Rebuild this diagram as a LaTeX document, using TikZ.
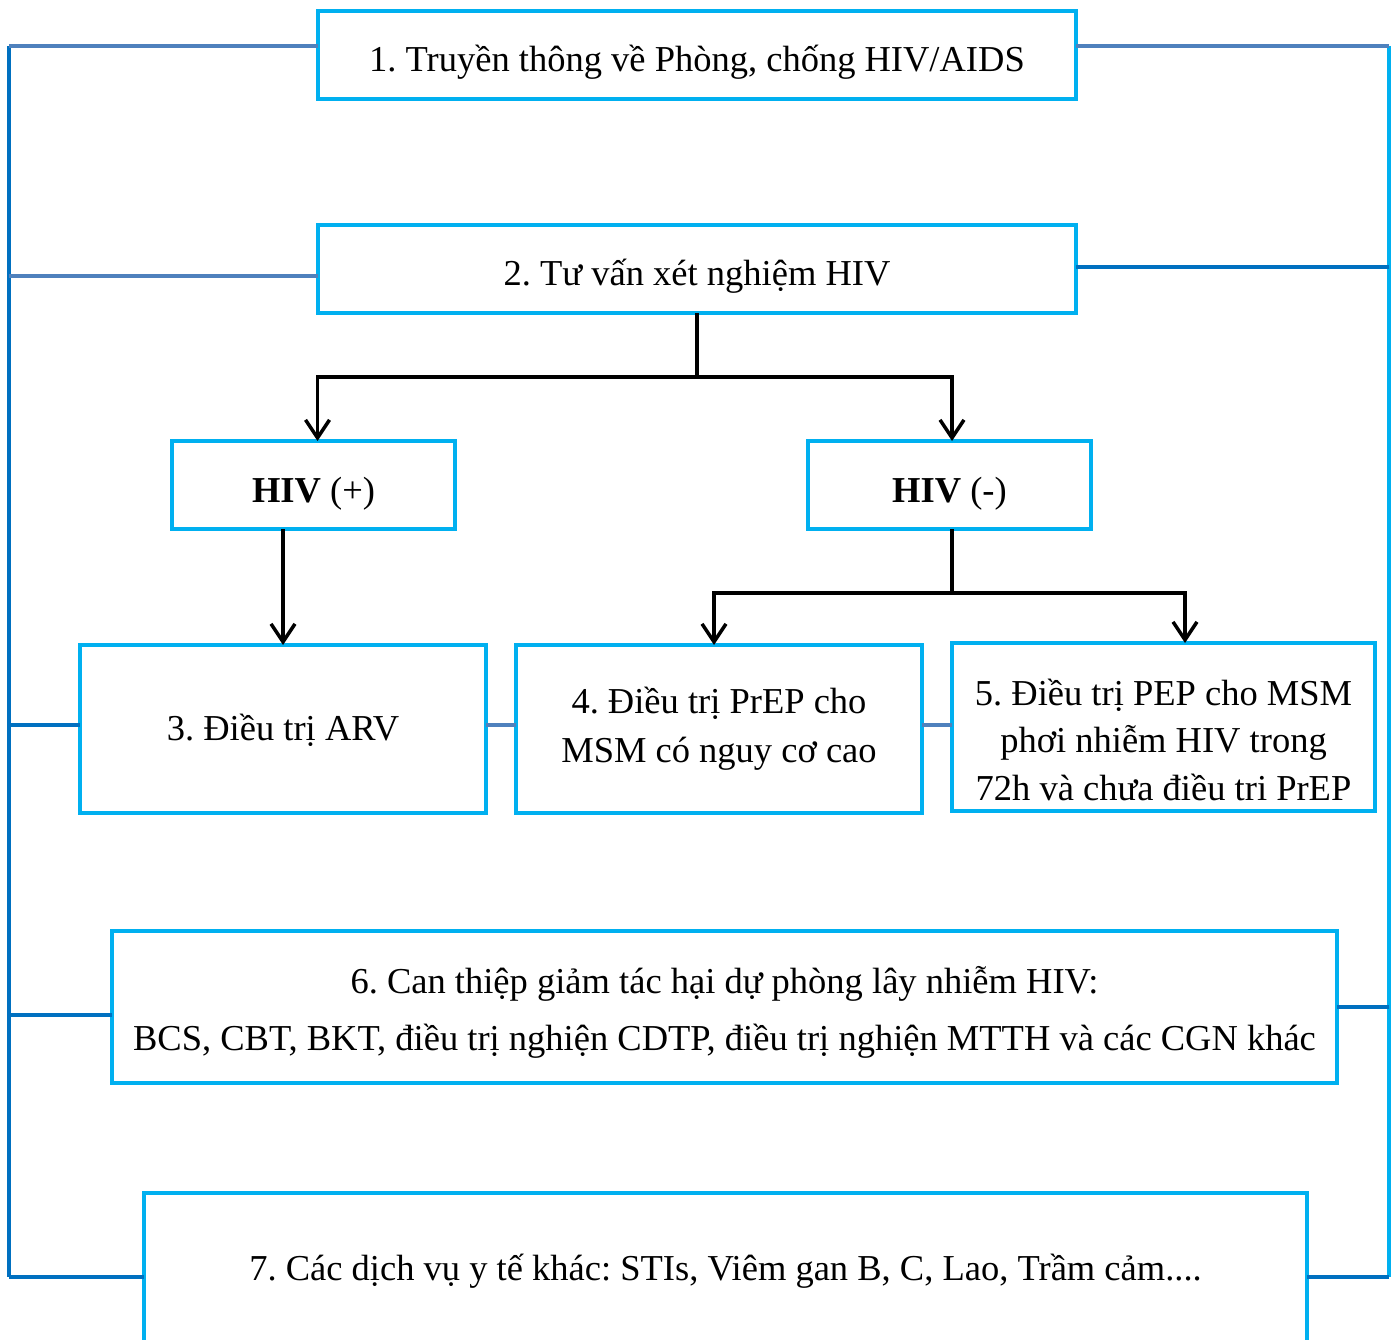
\documentclass[tikz,border=0pt]{standalone}
\usepackage{fontspec}
\setmainfont{Liberation Serif}
\frenchspacing
\usetikzlibrary{arrows.meta,
                calc,
                positioning}
\definecolor{boxcyan}{HTML}{00B0F0}
\definecolor{busdark}{HTML}{0070C0}
\definecolor{busgrey}{HTML}{4F81BD}
\tikzset{
	%Define style for boxes
	punkt/.style={
	       rectangle,
	       draw=boxcyan, line width=4pt,
	       inner sep=0pt, outer sep=0pt,
	       align=center,
	       font=\fontsize{36.5}{47.5}\selectfont},
	% Define arrow style
	pil/.style={
	       -{Straight Barb[length=18pt,width=24pt]},
	       line width=3.5pt},
	% Define bus line styles
	lien/.style={line width=3.5pt, draw=busgrey},
	lienb/.style={line width=3.5pt, draw=busdark},
	lienc/.style={line width=3.5pt, draw=boxcyan}
}

\begin{document}
\begin{tikzpicture}[x=1pt, y=-1pt] % pixel grid
		\clip (0,0) rectangle (1397,1340);
		\node[punkt, minimum width=758pt, minimum height=88pt, text height=33pt, text depth=0pt] at (697,55) (truyen_thong){1. Truyền thông về Phòng, chống HIV/AIDS};
		\node[punkt, minimum width=758pt, minimum height=88pt, text height=34pt, text depth=0pt] at (697,269) (tu_van){2. Tư vấn xét nghiệm HIV};
		\node[punkt, minimum width=283pt, minimum height=88pt, text height=34pt, text depth=0pt] at (313.5,485) (hiv_pos){\textbf{HIV} (+)};
		\node[punkt, minimum width=283pt, minimum height=88pt, text height=34pt, text depth=0pt] at (949.5,485) (hiv_neg){\textbf{HIV} (-)};
		\node[punkt, minimum width=406pt, minimum height=168pt, text height=22pt, text depth=0pt] at (283,729) (arv){3. Điều trị ARV};
		\node[punkt, minimum width=406pt, minimum height=168pt, right=30pt of arv, font=\fontsize{36.5}{49}\selectfont] (prep){4. Điều trị PrEP cho\\MSM có nguy cơ cao};
		\node[punkt, minimum width=423pt, minimum height=168pt, right=30pt of prep, yshift=2pt, text height=146pt, text depth=0pt] (pep){5. Điều trị PEP cho MSM\\phơi nhiễm HIV trong\\72h và chưa điều tri PrEP};
		\node[punkt, minimum width=1225pt, minimum height=152pt, font=\fontsize{36.5}{57}\selectfont, text height=86pt, text depth=0pt] at (724.5,1007) (giam_hai){6. Can thiệp giảm tác hại dự phòng lây nhiễm HIV:\\BCS, CBT, BKT, điều trị nghiện CDTP, điều trị nghiện MTTH và các CGN khác};
		\node[punkt, minimum width=1163pt, minimum height=150pt, text height=24pt, text depth=0pt] at (725.5,1268) (dich_vu){7. Các dịch vụ y tế khác: STIs, Viêm gan B, C, Lao, Trầm cảm....};
		% black arrows
		\draw[pil] (tu_van.south) -- ++(0,64) -| ([xshift=4pt]hiv_pos.north);
		\draw[pil] (tu_van.south) -- ++(0,64) -| ([xshift=2.5pt]hiv_neg.north);
		\draw[pil] (arv.north |- hiv_pos.south) -- (arv.north);
		\draw[pil] ([xshift=2.5pt]hiv_neg.south) -- ++(0,64) -| ([xshift=-5pt]prep.north);
		\draw[pil] ([xshift=2.5pt]hiv_neg.south) -- ++(0,64) -| ([xshift=21.5pt]pep.north);
		% side buses
		\coordinate (l1) at (9,46);
		\coordinate (l2) at (9,276);
		\coordinate (l3) at (9,725);
		\coordinate (l6) at (9,1015);
		\coordinate (l7) at (9,1277);
		\coordinate (r1) at (1389,46);
		\coordinate (r2) at (1389,267);
		\coordinate (r6) at (1389,1007);
		\coordinate (r7) at (1389,1277);
		\draw[lienb] (l1) -- (l7);
		\draw[lienc] (r1) -- (r7);
		\draw[lien] (l1) -- (l1 -| truyen_thong.west);
		\draw[lien] (l2) -- (l2 -| tu_van.west);
		\draw[lienb] (l3) -- (l3 -| arv.west);
		\draw[lienb] (l6) -- (l6 -| giam_hai.west);
		\draw[lienb] (l7) -- (l7 -| dich_vu.west);
		\draw[lien] (r1) -- (r1 -| truyen_thong.east);
		\draw[lienb] (r2) -- (r2 -| tu_van.east);
		\draw[lienb] (r6) -- (r6 -| giam_hai.east);
		\draw[lienb] (r7) -- (r7 -| dich_vu.east);
		\draw[lien] (l3 -| arv.east) -- (l3 -| prep.west);
		\draw[lien] (l3 -| prep.east) -- (l3 -| pep.west);
	\end{tikzpicture}
\end{document}
